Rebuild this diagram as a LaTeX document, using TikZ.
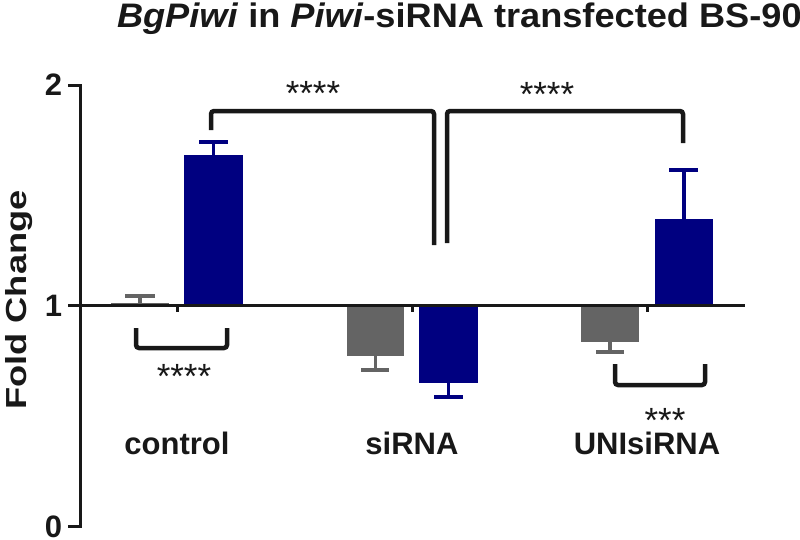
\documentclass[tikz,border=0pt]{standalone}
\usepackage{fontspec}
\setmainfont{Liberation Sans}
\definecolor{navy}{RGB}{0,0,128}
\definecolor{bargrey}{RGB}{100,100,100}
\definecolor{ink}{RGB}{24,24,24}
\begin{document}
\begin{tikzpicture}[x=1pt,y=-1pt,
  every node/.style={inner sep=0pt, outer sep=0pt, text=ink},
  axisline/.style={draw=ink, line width=3pt},
  bracketline/.style={draw=ink, line width=4.5pt, rounded corners=3pt},
  errbar/.style={line width=3.5pt},
  catlab/.style={font=\fontsize{31}{36}\selectfont\bfseries, anchor=base},
  ticklab/.style={font=\fontsize{31}{36}\selectfont\bfseries, anchor=base east},
  starlab/.style={font=\fontsize{35}{40}\selectfont, anchor=base}]
\useasboundingbox (0,0) rectangle (800,539);

% title
\node[anchor=base west] (title) at (117,27) {\scalebox{1.064}[1]{\fontsize{34}{40}\selectfont\bfseries\textit{BgPiwi} in \textit{Piwi}-siRNA transfected BS-90}};

% y label
\node[rotate=90, anchor=base] (ylab) at (27,300) {\scalebox{1.25}[1]{\fontsize{29}{34}\selectfont\bfseries Fold Change}};

% bars
\fill[bargrey] (111,303) rectangle (169,305);
\fill[navy] (184,155) rectangle (243,305);
\fill[bargrey] (347,305) rectangle (404,356);
\fill[navy] (419,305) rectangle (478,383);
\fill[bargrey] (581,305) rectangle (639,342);
\fill[navy] (655,219) rectangle (713,305);

% error bars
\draw[errbar, bargrey] (140,305) -- (140,296) (125,296) -- (155,296);
\draw[errbar, navy] (213.5,155) -- (213.5,142) (199,142) -- (228,142);
\draw[errbar, bargrey] (375.5,356) -- (375.5,370) (361,370) -- (389,370);
\draw[errbar, navy] (448.5,383) -- (448.5,397) (434,397) -- (463,397);
\draw[errbar, bargrey] (610,342) -- (610,352) (596,352) -- (624,352);
\draw[errbar, navy] (684,219) -- (684,170) (669,170) -- (698,170);

% axes
\draw[axisline] (68,85) -- (80,85) -- (80,526) -- (68,526);
\draw[axisline] (68,305) -- (80,305);
\draw[axisline] (80,305) -- (745,305);
\foreach \t in {177,412,647} \draw[axisline] (\t,305) -- (\t,312);

% tick labels
\node[ticklab] (t2) at (62,95) {2};
\node[ticklab] (t1) at (62,316) {1};
\node[ticklab] (t0) at (62,537) {0};

% category labels
\node[catlab] (c1) at (177,454) {control};
\node[catlab] (c2) at (412,454) {siRNA};
\node[catlab] (c3) at (647,454) {UNIsiRNA};

% brackets
\draw[bracketline] (211,130) -- (211,111) -- (434,111) -- (434,245);
\draw[bracketline] (447,243) -- (447,111) -- (683,111) -- (683,143);
\draw[bracketline] (136,328) -- (136,348) -- (227,348) -- (227,328);
\draw[bracketline] (615,364) -- (615,385) -- (705,385) -- (705,364);

% stars
\node[starlab] (s1) at (313,105) {****};
\node[starlab] (s2) at (547,106) {****};
\node[starlab] (s3) at (184,388) {****};
\node[starlab] (s4) at (665,432) {***};
\end{tikzpicture}
\end{document}
